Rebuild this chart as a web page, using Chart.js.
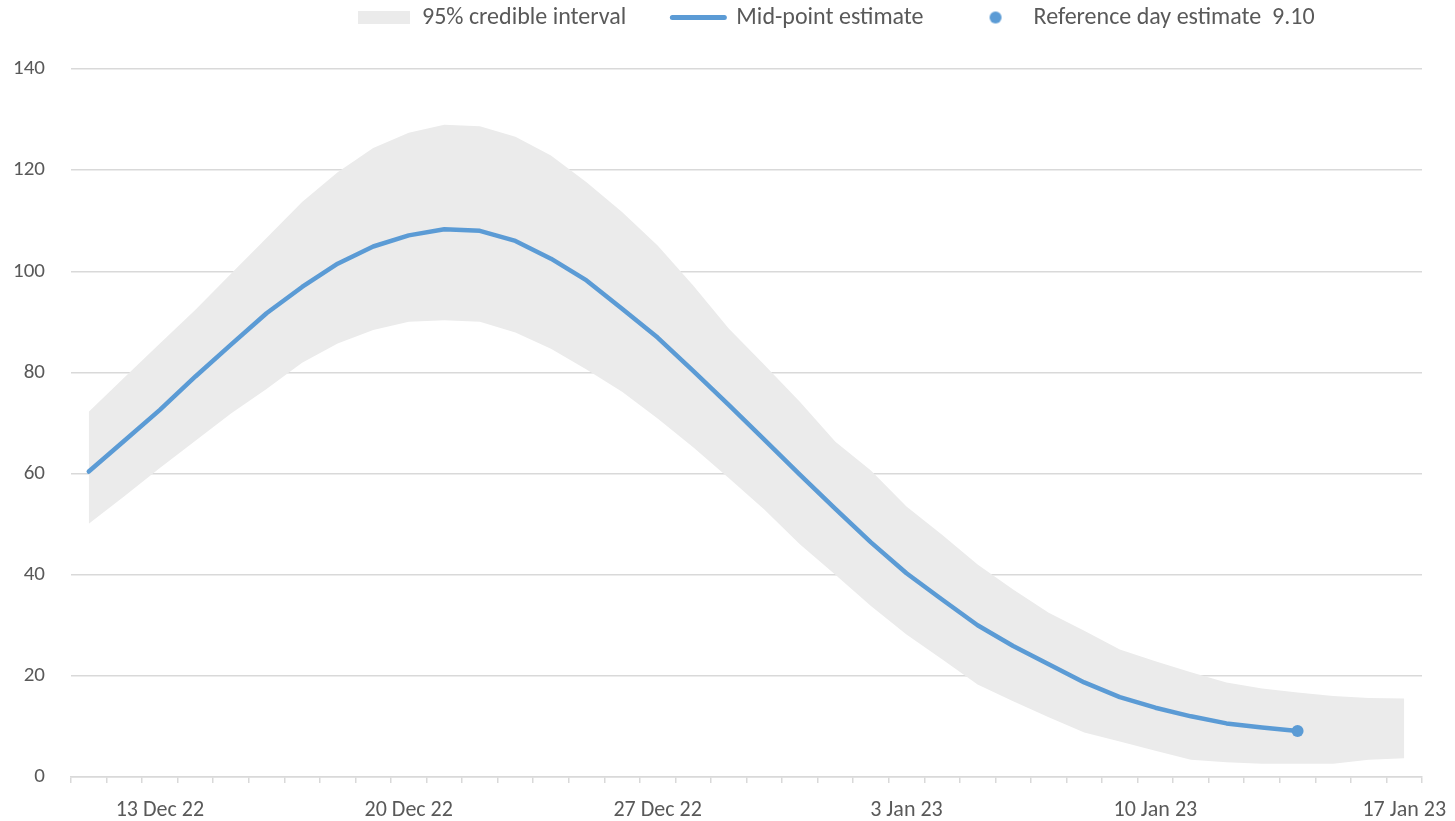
<!DOCTYPE html>
<html>
<head>
<meta charset="utf-8">
<script src="https://cdn.jsdelivr.net/npm/chart.js@4"></script>
<style>
html,body{margin:0;padding:0;background:#ffffff;}
#wrap{width:1455px;height:821px;position:relative;}
</style>
</head>
<body>
<div id="wrap"><canvas id="c" width="1455" height="821"></canvas></div>
<script>
const days = ["11 Dec 22","12 Dec 22","13 Dec 22","14 Dec 22","15 Dec 22","16 Dec 22","17 Dec 22","18 Dec 22","19 Dec 22","20 Dec 22",
  "21 Dec 22","22 Dec 22","23 Dec 22","24 Dec 22","25 Dec 22","26 Dec 22","27 Dec 22","28 Dec 22","29 Dec 22","30 Dec 22",
  "31 Dec 22","1 Jan 23","2 Jan 23","3 Jan 23","4 Jan 23","5 Jan 23","6 Jan 23","7 Jan 23","8 Jan 23","9 Jan 23",
  "10 Jan 23","11 Jan 23","12 Jan 23","13 Jan 23","14 Jan 23","15 Jan 23","16 Jan 23","17 Jan 23"];
const tickLabels = ["13 Dec 22","20 Dec 22","27 Dec 22","3 Jan 23","10 Jan 23","17 Jan 23"];
const upperCI = [72.2,79.0,85.7,92.4,99.5,106.6,113.7,119.6,124.4,127.4,
  129.0,128.7,126.6,122.9,117.6,111.7,105.1,97.2,88.7,81.5,
  74.2,66.3,60.6,53.5,47.9,42.0,37.1,32.5,28.9,25.2,
  22.9,20.7,18.7,17.5,16.7,16.0,15.6,15.5];
const lowerCI = [50.1,55.5,61.1,66.5,71.9,76.7,81.9,85.7,88.4,90.0,
  90.3,90.0,87.9,84.7,80.6,76.2,70.9,65.2,59.1,52.9,
  46.0,40.0,33.8,28.2,23.3,18.3,15.0,11.8,8.8,7.0,
  5.2,3.4,2.9,2.6,2.6,2.6,3.4,3.7];
const midEstimate = [60.4,66.5,72.6,79.2,85.5,91.7,96.9,101.5,104.9,107.1,
  108.3,108.0,106.0,102.5,98.2,92.6,86.9,80.3,73.6,66.7,
  59.8,53.0,46.4,40.3,35.1,30.0,25.9,22.3,18.7,15.8,
  13.7,12.0,10.6,9.8,9.1,null,null,null];
const refDay = "14 Jan 23";
const refValue = 9.10;
const yMin = 0, yMax = 140, yStep = 20;

const FONT = "Carlito, Lato, 'Open Sans', sans-serif";
const TEXT = '#595959';
const BLUE = '#5b9bd5';
const BAND = '#ebebeb';
const GRID = '#d9d9d9';
const FS = 21;       // y axis labels
const FS_X = 22;     // x axis labels
const FS_LEG = 24;   // legend labels

// legend symbol for the reference-day point
const dot = document.createElement('canvas');
dot.width = 14; dot.height = 14;
(function(){const g = dot.getContext('2d'); g.fillStyle = BLUE; g.beginPath(); g.arc(7,7,6,0,Math.PI*2); g.fill();})();

const LEGEND_PAD = 46;
const legendPlace = {
  id: 'legendPlace',
  afterLayout(chart) {
    const l = chart.legend;
    const w = l.right - l.left;
    l.left = 358 - LEGEND_PAD;
    l.right = l.left + w;
    l.top = 17.5 - LEGEND_PAD - FS_LEG / 2;
  }
};

new Chart(document.getElementById('c'), {
  type: 'line',
  data: {
    labels: days,
    datasets: [
      { label: '95% credible interval', data: upperCI, fill: '+1', backgroundColor: BAND, borderWidth: 0, pointRadius: 0, order: 3 },
      { label: '', data: lowerCI, fill: false, borderWidth: 0, pointRadius: 0, order: 4 },
      { label: 'Mid-point estimate', data: midEstimate, borderColor: BLUE, backgroundColor: BLUE, borderWidth: 4.5,
        pointRadius: 0, fill: false, tension: 0, borderCapStyle: 'round', borderJoinStyle: 'round', spanGaps: false, order: 1 },
      { label: 'Reference day estimate  ' + refValue.toFixed(2), data: days.map(d => d === refDay ? refValue : null),
        showLine: false, pointRadius: 6, pointBackgroundColor: BLUE, pointBorderWidth: 0, backgroundColor: BLUE, borderColor: BLUE, order: 0 }
    ]
  },
  options: {
    responsive: false,
    animation: false,
    layout: { padding: { left: 0, right: 0, top: 0, bottom: 0 } },
    plugins: {
      tooltip: { enabled: false },
      legend: {
        position: 'top',
        align: 'start',
        maxHeight: 69,
        labels: {
          font: { family: FONT, size: FS_LEG },
          color: TEXT,
          padding: LEGEND_PAD,
          usePointStyle: true,
          pointStyleWidth: 52,
          boxHeight: 13,
          sort: (a, b) => a.datasetIndex - b.datasetIndex,
          generateLabels(chart) {
            const items = Chart.defaults.plugins.legend.labels.generateLabels(chart).filter(it => it.text);
            items.forEach(it => {
              if (it.datasetIndex === 0) { it.pointStyle = 'rect'; it.fillStyle = BAND; it.strokeStyle = 'rgba(0,0,0,0)'; it.lineWidth = 0; }
              else if (it.datasetIndex === 2) { it.pointStyle = 'line'; it.strokeStyle = BLUE; it.lineWidth = 5; it.lineCap = 'round'; }
              else if (it.datasetIndex === 3) { it.pointStyle = dot; it.lineWidth = 0; }
            });
            return items;
          }
        }
      }
    },
    scales: {
      x: {
        type: 'category',
        offset: true,
        afterFit: (s) => { s.height = 44; s.paddingRight = 33; },
        grid: { offset: true, drawOnChartArea: false, drawTicks: true, tickLength: 6, color: GRID, lineWidth: 1.5 },
        border: { display: true, color: GRID, width: 1.5 },
        ticks: {
          autoSkip: false, maxRotation: 0, minRotation: 0, padding: 14,
          font: { family: FONT, size: FS_X }, color: TEXT,
          callback: function(v, i) { const l = this.getLabelForValue(v); return tickLabels.includes(l) ? l : ''; }
        }
      },
      y: {
        min: yMin, max: yMax,
        afterFit: (s) => { s.width = 71; },
        grid: { color: GRID, lineWidth: 1.5, drawTicks: false },
        border: { display: false },
        ticks: { stepSize: yStep, padding: 26, font: { family: FONT, size: FS }, color: TEXT }
      }
    }
  },
  plugins: [legendPlace]
});
</script>
</body>
</html>
